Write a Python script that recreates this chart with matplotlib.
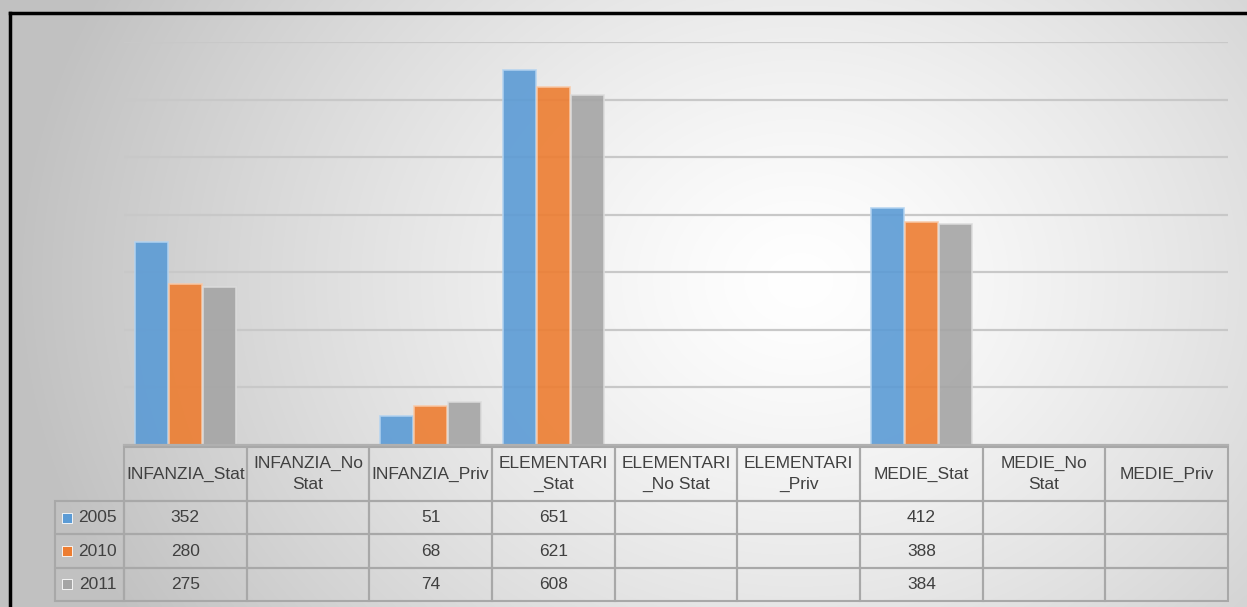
import matplotlib
matplotlib.use("Agg")
import matplotlib.pyplot as plt
from matplotlib import font_manager
from matplotlib.table import Table
from matplotlib.lines import Line2D
import numpy as np

# Excel used a narrow font; take one if it is installed, else Liberation Sans smaller
names = {f.name for f in font_manager.fontManager.ttflist}
if 'Liberation Sans Narrow' in names:
    plt.rcParams['font.family'] = ['Liberation Sans Narrow', 'DejaVu Sans']
    fsize = 14.5
else:
    plt.rcParams['font.family'] = ['Liberation Sans', 'DejaVu Sans']
    fsize = 12.5

categories = ["INFANZIA_Stat", "INFANZIA_No\nStat", "INFANZIA_Priv",
              "ELEMENTARI\n_Stat", "ELEMENTARI\n_No Stat", "ELEMENTARI\n_Priv",
              "MEDIE_Stat", "MEDIE_No\nStat", "MEDIE_Priv"]
years = ["2005", "2010", "2011"]
v2005 = [352, None, 51, 651, None, None, 412, None, None]
v2010 = [280, None, 68, 621, None, None, 388, None, None]
v2011 = [275, None, 74, 608, None, None, 384, None, None]
series = [v2005, v2010, v2011]
colors = ["#5B9BD5", "#ED7D31", "#A5A5A5"]
edges = ["#b3d3f0", "#f8c9a8", "#dcdcdc"]

W, H = 1247, 607
fig = plt.figure(figsize=(W / 100, H / 100), dpi=100)

# radial grey-to-white background
bg = fig.add_axes([0, 0, 1, 1], zorder=-10)
yy, xx = np.mgrid[0:H, 0:W]
d = np.sqrt((xx - 800) ** 2 + ((yy - 280) * 1.2) ** 2) / 780
d = np.clip(d, 0, 1)
shade = 1.0 - 0.24 * d ** 1.3
bg.imshow(np.dstack([shade] * 3), extent=[0, W, H, 0], aspect='auto')
bg.set_xlim(0, W)
bg.set_ylim(H, 0)
bg.axis('off')

# black frame (top and left visible)
frame_kw = dict(color='black', lw=2.5, transform=bg.transData)
bg.add_line(Line2D([10, W + 5], [13, 13], **frame_kw))
bg.add_line(Line2D([10, 10], [13, H + 5], **frame_kw))

# plot area
x0, x1, ytop, ybot = 124, 1228, 42, 445
ax = fig.add_axes([x0 / W, 1 - ybot / H, (x1 - x0) / W, (ybot - ytop) / H])
ax.set_facecolor('none')

x = np.arange(len(categories))
bw = 0.27
offs = [-0.275, 0, 0.275]
for vals, off, c, ec in zip(series, offs, colors, edges):
    h = [v if v is not None else 0 for v in vals]
    ax.bar(x + off, h, width=bw, color=c, edgecolor=ec, linewidth=1.2,
           alpha=0.9, zorder=2)

ax.set_xlim(-0.5, len(categories) - 0.5)
ax.set_ylim(0, 700)
ax.set_yticks(np.arange(100, 701, 100))
ax.yaxis.grid(True, color='#c8c8c8', lw=1.6, zorder=1)
ax.set_axisbelow(True)
ax.tick_params(left=False, bottom=False, labelleft=False, labelbottom=False)
for s in ['top', 'right', 'left']:
    ax.spines[s].set_visible(False)
ax.spines['bottom'].set_color('#b0b0b0')
ax.spines['bottom'].set_linewidth(1.6)

# data table below the plot (sizes in axes fractions)
axw, axh = x1 - x0, ybot - ytop
tleft, ttop, tbottom = 55, 447, 601
colw = (x1 - x0) / len(categories) / axw
labw = (x0 - tleft) / axw
hh = 54 / axh
rh = (tbottom - ttop - 54) / 3 / axh
tb = Table(ax, bbox=[0, (ybot - tbottom) / axh, 1, (tbottom - ttop) / axh])
txtc = '#404040'
for j, cat in enumerate(categories):
    tb.add_cell(0, j, colw, hh, text=cat, loc='center', facecolor='none',
                edgecolor='#a8a8a8')
for i, (yr, vals) in enumerate(zip(years, series)):
    tb.add_cell(i + 1, -1, labw, rh, text=yr, loc='right',
                facecolor='none', edgecolor='#a8a8a8')
    for j, v in enumerate(vals):
        tb.add_cell(i + 1, j, colw, rh, text='' if v is None else str(v),
                    loc='center', facecolor='none', edgecolor='#a8a8a8')
tb.auto_set_font_size(False)
tb.set_fontsize(fsize)
for (r, c), cell in tb.get_celld().items():
    cell.set_linewidth(1.5)
    cell.get_text().set_color(txtc)
    if r == 0:
        cell.get_text().set_linespacing(1.45)
ax.add_table(tb)

# colour keys in row labels
for i, c in enumerate(colors):
    yc = ttop + 54 + rh * axh * (i + 0.5)
    ax.plot([(67 - x0) / axw], [(ybot - yc) / axh], marker='s', ms=7.5,
            color=c, mec='white', mew=0.6, transform=ax.transAxes, clip_on=False)

fig.savefig("out.png", dpi=100)
